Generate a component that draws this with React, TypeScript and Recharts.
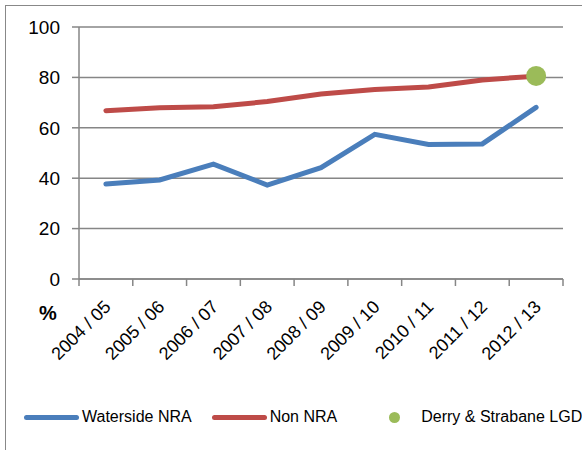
import React from "react";
import { LineChart, Line, XAxis, YAxis, CartesianGrid } from "recharts";

const categories = [
  "2004 / 05",
  "2005 / 06",
  "2006 / 07",
  "2007 / 08",
  "2008 / 09",
  "2009 / 10",
  "2010 / 11",
  "2011 / 12",
  "2012 / 13",
];
const watersideNra = [37.7, 39.3, 45.6, 37.3, 44.2, 57.4, 53.4, 53.6, 68.1];
const nonNra = [66.8, 68.0, 68.4, 70.4, 73.4, 75.2, 76.2, 79.0, 80.5];
const derryStrabane = [null, null, null, null, null, null, null, null, 80.6];
const yTicks = [0, 20, 40, 60, 80, 100];

const BLUE = "#4A7EBB";
const RED = "#BE4B48";
const GREEN = "#9BBB59";
const GRID = "#868686";
const FONT = "'Liberation Sans', Arial, sans-serif";

const data = categories.map((label, i) => ({
  x: i + 0.5,
  label,
  waterside: watersideNra[i],
  nonNra: nonNra[i],
  lgd: derryStrabane[i],
}));

// boundary ticks (0..9) get a tick line, half ticks get the rotated label
const xTicks: number[] = [];
for (let i = 0; i <= categories.length * 2; i++) xTicks.push(i / 2);

function XTick(props: any) {
  const { x, y, payload } = props;
  const v = payload.value as number;
  if (Number.isInteger(v)) {
    return <line x1={x} x2={x} y1={y - 7} y2={y} stroke={GRID} strokeWidth={1.5} />;
  }
  const label = categories[Math.floor(v)];
  return (
    <text
      transform={`translate(${x + 6},${y + 22}) rotate(-45)`}
      textAnchor="end"
      fontSize={18}
      fontFamily={FONT}
      fill="#000"
    >
      {label}
    </text>
  );
}

const legendItems = [
  { name: "Waterside NRA", color: BLUE, kind: "line" },
  { name: "Non NRA", color: RED, kind: "line" },
  { name: "Derry & Strabane LGD", color: GREEN, kind: "dot" },
];

export default function App() {
  return (
    <div style={{ position: "absolute", left: 0, top: 0, width: 582, height: 450, background: "#fff", overflow: "hidden" }}>
      <div
        style={{
          position: "absolute",
          left: 5,
          top: 5,
          width: 600,
          height: 470,
          borderLeft: "1.5px solid #888",
          borderTop: "1.5px solid #888",
        }}
      />
      <LineChart
        width={582}
        height={450}
        data={data}
        margin={{ top: 27, right: 19, left: 19, bottom: 81 }}
        style={{ position: "absolute", left: 0, top: 0 }}
      >
        <CartesianGrid vertical={false} stroke={GRID} strokeWidth={1.5} />
        <XAxis
          dataKey="x"
          type="number"
          domain={[0, categories.length]}
          ticks={xTicks}
          interval={0}
          height={90}
          tickSize={7}
          tickMargin={0}
          tickLine={false}
          axisLine={{ stroke: GRID, strokeWidth: 1.5 }}
          tick={<XTick />}
        />
        <YAxis
          domain={[0, 100]}
          ticks={yTicks}
          width={60}
          tickSize={7}
          tickMargin={12}
          tickLine={{ stroke: GRID, strokeWidth: 1.5 }}
          axisLine={{ stroke: GRID, strokeWidth: 1.5 }}
          tick={{ fill: "#000", fontSize: 19, fontFamily: FONT }}
        />
        <Line
          dataKey="waterside"
          stroke={BLUE}
          strokeWidth={5}
          strokeLinecap="round"
          dot={false}
          isAnimationActive={false}
        />
        <Line
          dataKey="nonNra"
          stroke={RED}
          strokeWidth={5}
          strokeLinecap="round"
          dot={false}
          isAnimationActive={false}
        />
        <Line
          dataKey="lgd"
          stroke="none"
          dot={{ r: 10, fill: GREEN, stroke: "none" }}
          isAnimationActive={false}
        />
      </LineChart>
      <div
        style={{
          position: "absolute",
          left: 39,
          top: 302,
          fontFamily: FONT,
          fontWeight: "bold",
          fontSize: 20,
        }}
      >
        %
      </div>
      <div
        style={{
          position: "absolute",
          left: 24,
          top: 408,
          display: "flex",
          alignItems: "center",
          fontFamily: FONT,
          fontSize: 16,
          color: "#000",
          whiteSpace: "nowrap",
        }}
      >
        {legendItems.map((item) =>
          item.kind === "line" ? (
            <div key={item.name} style={{ display: "flex", alignItems: "center", marginRight: 20 }}>
              <div style={{ width: 55, height: 5, borderRadius: 3, background: item.color, marginRight: 3 }} />
              <span>{item.name}</span>
            </div>
          ) : (
            <div key={item.name} style={{ display: "flex", alignItems: "center", marginLeft: 32 }}>
              <div style={{ width: 11, height: 11, borderRadius: "50%", background: item.color, marginRight: 21 }} />
              <span>{item.name}</span>
            </div>
          )
        )}
      </div>
    </div>
  );
}
